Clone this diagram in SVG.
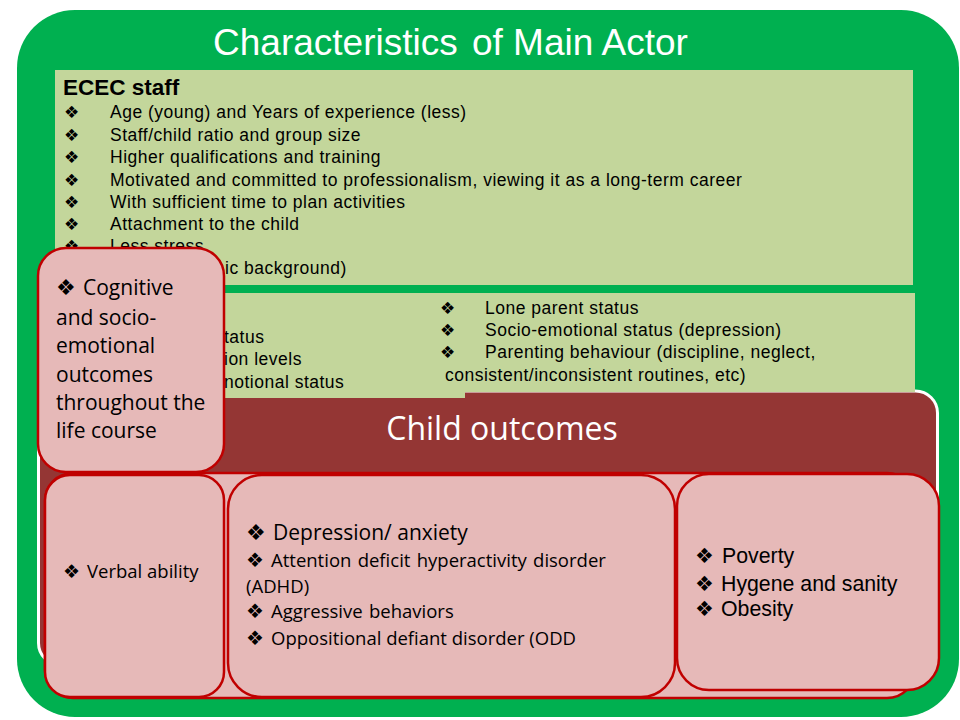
<svg xmlns="http://www.w3.org/2000/svg" width="960" height="720" viewBox="0 0 960 720">
<style>
.arial{font-family:"Liberation Sans",Arial,sans-serif;fill:#000}
.cal{font-family:"Open Sans","Noto Sans",sans-serif;fill:#000}
.b{font-family:"DejaVu Sans",sans-serif}
.lg{fill:#C3D69B}
.pk{fill:#E6B9B8;stroke:#C00000;stroke-width:2.5}
.li{font-size:17.5px;letter-spacing:0.5px}
.sb{font-size:17px;letter-spacing:0}
</style>
<rect width="960" height="720" fill="#fff"/>
<g id="frame">
<rect x="17" y="10" width="942" height="707" rx="58" fill="#00B050"/>
<text x="213" y="55" font-family="Liberation Sans,Arial,sans-serif" font-size="37" fill="#fff">Characteristics <tspan dx="4">of Main Actor</tspan></text>
</g>
<g id="ecec">
<rect class="lg" x="55" y="70" width="858" height="215"/>
<text class="arial" x="63" y="95" font-size="22.5" font-weight="bold">ECEC staff</text>
<g class="arial li">
<text y="118"><tspan class="b sb" x="64">❖</tspan><tspan x="110">Age (young) and Years of experience (less)</tspan></text>
<text y="141"><tspan class="b sb" x="64">❖</tspan><tspan x="110">Staff/child ratio and group size</tspan></text>
<text y="163"><tspan class="b sb" x="64">❖</tspan><tspan x="110">Higher qualifications  and training</tspan></text>
<text y="186"><tspan class="b sb" x="64">❖</tspan><tspan x="110">Motivated and committed to professionalism, viewing it as a long-term career</tspan></text>
<text y="208"><tspan class="b sb" x="64">❖</tspan><tspan x="110">With sufficient time to plan activities</tspan></text>
<text y="230"><tspan class="b sb" x="64">❖</tspan><tspan x="110">Attachment to the child</tspan></text>
<text y="252"><tspan class="b sb" x="64">❖</tspan><tspan x="110">Less stress</tspan></text>
<text x="225" y="274">ic background)</text>
</g>
</g>
<g id="child-outcomes">
<rect x="38.5" y="391" width="899" height="274" rx="22" fill="#943634" stroke="#fff" stroke-width="3"/>
</g>
<g id="parents">
<path class="lg" d="M55 293H915V392H465V398H55Z"/>
<g class="arial li">
<text x="224" y="343">tatus</text>
<text x="224" y="365">ion levels</text>
<text x="224" y="388">notional status</text>
<text y="314"><tspan class="b sb" x="440">❖</tspan><tspan x="485">Lone parent status</tspan></text>
<text y="336"><tspan class="b sb" x="440">❖</tspan><tspan x="485">Socio-emotional status (depression)</tspan></text>
<text y="358"><tspan class="b sb" x="440">❖</tspan><tspan x="485">Parenting behaviour (discipline, neglect,</tspan></text>
<text x="445" y="381">consistent/inconsistent routines, etc)</text>
</g>
</g>
<g id="child-outcomes-title">
<text x="502" y="440" text-anchor="middle" font-family="Open Sans,Noto Sans,sans-serif" font-size="32" fill="#fff">Child outcomes</text>
<rect class="pk" x="45" y="473" width="870" height="225" rx="28"/>
</g>
<g id="cognitive">
<rect class="pk" x="38" y="248" width="186" height="224" rx="28"/>
<g class="cal" font-size="21">
<text y="295"><tspan class="b" x="56" font-size="22">❖</tspan><tspan x="83">Cognitive</tspan></text>
<text x="56" y="325">and socio-</text>
<text x="56" y="353">emotional</text>
<text x="56" y="382">outcomes</text>
<text x="56" y="410">throughout the</text>
<text x="56" y="438">life course</text>
</g>
</g>
<g id="verbal">
<rect class="pk" x="45" y="475" width="179" height="222" rx="25"/>
<text class="cal" y="578" font-size="18.5"><tspan class="b" x="63" font-size="19">❖</tspan><tspan x="87">Verbal ability</tspan></text>
</g>
<g id="behaviour">
<rect class="pk" x="228" y="475" width="447" height="222" rx="34"/>
<g class="cal">
<text y="540" font-size="21"><tspan class="b" x="246" font-size="22">❖</tspan><tspan x="273">Depression/ anxiety</tspan></text>
<text y="567" font-size="18.5" word-spacing="1.5"><tspan class="b" x="246" font-size="20">❖</tspan><tspan x="271">Attention deficit hyperactivity disorder</tspan></text>
<text x="246" y="593" font-size="18.5">(ADHD)</text>
<text y="618" font-size="18.5" word-spacing="1.5"><tspan class="b" x="246" font-size="20">❖</tspan><tspan x="271">Aggressive behaviors</tspan></text>
<text y="645" font-size="18.5"><tspan class="b" x="246" font-size="20">❖</tspan><tspan x="271">Oppositional defiant disorder (ODD</tspan></text>
</g>
</g>
<g id="health">
<rect class="pk" x="677" y="474" width="262" height="216" rx="32"/>
<g class="arial" font-size="21.3">
<text y="563"><tspan class="b" x="695" font-size="21">❖</tspan><tspan x="722">Poverty</tspan></text>
<text y="591"><tspan class="b" x="695" font-size="21">❖</tspan><tspan x="721">Hygene and sanity</tspan></text>
<text y="616"><tspan class="b" x="695" font-size="21">❖</tspan><tspan x="721">Obesity</tspan></text>
</g>
</g>
<g id="connectors"/>
</svg>
